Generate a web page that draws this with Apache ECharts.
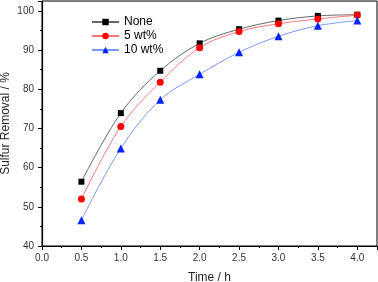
<!DOCTYPE html>
<html><head><meta charset="utf-8">
<script src="https://cdn.jsdelivr.net/npm/echarts@6/dist/echarts.min.js"></script>
<style>html,body{margin:0;padding:0;background:#fff}#c{width:378px;height:282px}</style>
</head><body><div id="c"></div>
<script>
const times = [0.5, 1.0, 1.5, 2.0, 2.5, 3.0, 3.5, 4.0];
const seriesNames = ['None', '5 wt%', '10 wt%'];
const noneVals = [56.4, 73.9, 84.7, 91.7, 95.3, 97.5, 98.7, 99.0];
const wt5Vals = [52.0, 70.5, 81.8, 90.6, 94.7, 96.7, 97.9, 98.9];
const wt10Vals = [46.6, 64.9, 77.3, 83.8, 89.4, 93.5, 96.2, 97.5];
const xTicks = [0.0, 0.5, 1.0, 1.5, 2.0, 2.5, 3.0, 3.5, 4.0];
const yTicks = [40, 50, 60, 70, 80, 90, 100];

const pair = v => times.map((t, i) => [t, v[i]]);
const font = 'Liberation Sans, Arial, sans-serif';
const chart = echarts.init(document.getElementById('c'), null, {renderer: 'canvas'});
const mk = (name, vals, sym, symSize, mColor, lColor) => ({
  name, type: 'line', data: pair(vals), smooth: 0.35,
  symbol: sym, symbolSize: symSize, showAllSymbol: true,
  itemStyle: {color: mColor},
  lineStyle: {color: lColor, width: 1},
  emphasis: {disabled: true}, animation: false
});
chart.setOption({
  animation: false,
  grid: {left: 42, right: 1, top: 1, bottom: 36, containLabel: false, outerBoundsMode: 'none',
    show: true, borderColor: '#000', borderWidth: 1, backgroundColor: 'transparent'},
  legend: {
    orient: 'vertical', left: 86, top: 11, itemWidth: 27, itemHeight: 8, itemGap: 2,
    textStyle: {fontFamily: font, fontSize: 12, lineHeight: 12, color: '#000'},
    data: seriesNames
  },
  xAxis: {
    type: 'value', min: 0, max: 4.25, interval: 0.5,
    name: 'Time / h', nameLocation: 'middle', nameGap: 26, nameMoveOverlap: false,
    nameTextStyle: {fontFamily: font, fontSize: 12, color: '#222'},
    axisLine: {show: true, onZero: false, lineStyle: {color: '#000', width: 1.2}},
    axisTick: {show: true, length: 4, lineStyle: {color: '#000'}},
    minorTick: {show: true, splitNumber: 2, length: 2, lineStyle: {color: '#000'}},
    splitLine: {show: false},
    axisLabel: {fontFamily: font, fontSize: 10, color: '#333', margin: 7,
      formatter: v => xTicks.some(t => Math.abs(t - v) < 1e-6) ? v.toFixed(1) : ''}
  },
  yAxis: {
    type: 'value', min: 40, max: 102.5, interval: 10,
    name: 'Sulfur Removal / %', nameLocation: 'middle', nameGap: 30, nameMoveOverlap: false,
    nameTextStyle: {fontFamily: font, fontSize: 12, color: '#222'},
    axisLine: {show: true, onZero: false, lineStyle: {color: '#000', width: 1.2}},
    axisTick: {show: true, length: 4, lineStyle: {color: '#000'}},
    minorTick: {show: true, splitNumber: 2, length: 2, lineStyle: {color: '#000'}},
    splitLine: {show: false},
    axisLabel: {fontFamily: font, fontSize: 10, color: '#333', margin: 8,
      formatter: v => yTicks.includes(v) ? String(v) : ''}
  },
  series: [
    mk(seriesNames[0], noneVals, 'rect', 6, '#000', '#666'),
    mk(seriesNames[1], wt5Vals, 'circle', 7, '#ff0000', '#ff7777'),
    mk(seriesNames[2], wt10Vals, 'triangle', 8, '#0022ff', '#7799ff')
  ]
});
</script></body></html>
